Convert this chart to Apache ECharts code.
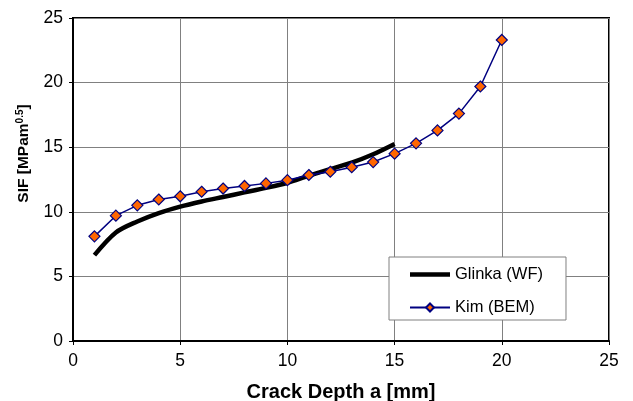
<!DOCTYPE html>
<html>
<head>
<meta charset="utf-8">
<script src="https://cdn.jsdelivr.net/npm/echarts@6/dist/echarts.min.js"></script>
<style>
  html, body { margin: 0; padding: 0; background: #fff; }
  #chart { width: 633px; height: 401px; }
</style>
</head>
<body>
<div id="chart"></div>
<script>
// Crack depth a [mm]
const glinkaDepth = [1, 2, 3, 4, 5, 6, 7, 8, 9, 10, 11, 12, 13, 14, 15];
const glinkaSIF = [6.65, 8.4, 9.25, 9.9, 10.4, 10.8, 11.15, 11.5, 11.85, 12.25, 12.8, 13.3, 13.8, 14.45, 15.25];

const kimDepth = [1, 2, 3, 4, 5, 6, 7, 8, 9, 10, 11, 12, 13, 14, 15, 16, 17, 18, 19, 20];
const kimSIF = [8.1, 9.7, 10.5, 10.95, 11.2, 11.55, 11.8, 12.0, 12.2, 12.45, 12.85, 13.1, 13.45, 13.85, 14.5, 15.3, 16.3, 17.6, 19.7, 23.3];

const seriesNames = ['Glinka (WF)', 'Kim (BEM)'];

const pairs = (xs, ys) => xs.map((x, i) => [x, ys[i]]);

const font = 'Liberation Sans, Arial, sans-serif';

const chart = echarts.init(document.getElementById('chart'), null, { renderer: 'canvas' });
chart.setOption({
  animation: false,
  backgroundColor: '#ffffff',
  textStyle: { fontFamily: font },
  grid: {
    left: 73, right: 24, top: 18, bottom: 60,
    outerBoundsMode: 'none',
    containLabel: false,
    show: true, borderColor: '#000', borderWidth: 2, backgroundColor: '#fff'
  },
  legend: {
    orient: 'vertical',
    left: 389, top: 257,
    padding: [9, 23, 4, 20],
    itemGap: 16,
    itemWidth: 40, itemHeight: 10,
    backgroundColor: '#fff',
    borderColor: '#808080', borderWidth: 1,
    textStyle: { fontSize: 16.5, color: '#000', fontFamily: font },
    data: [
      // plain thick bar for the wave-function curve (no marker)
      { name: seriesNames[0], icon: 'path://M0,0L40,0L40,4.5L0,4.5Z', itemStyle: { color: '#000' } },
      { name: seriesNames[1] }
    ]
  },
  xAxis: {
    type: 'value', min: 0, max: 25, interval: 5,
    name: 'Crack Depth a [mm]',
    nameLocation: 'middle', nameGap: 41,
    nameMoveOverlap: false,
    nameTextStyle: { fontSize: 20, fontWeight: 'bold', color: '#000', fontFamily: font },
    axisLine: { lineStyle: { color: '#000', width: 2 } },
    axisTick: { show: true, length: 4, lineStyle: { color: '#000', width: 1 } },
    axisLabel: { fontSize: 17.5, color: '#000', margin: 11, fontFamily: font },
    splitLine: { show: true, lineStyle: { color: '#808080', width: 1 } }
  },
  yAxis: {
    type: 'value', min: 0, max: 25, interval: 5,
    name: 'SIF [MPam{sup|0.5}]',
    nameLocation: 'middle', nameGap: 40, nameRotate: 90,
    nameMoveOverlap: false,
    nameTextStyle: {
      fontSize: 15.5, fontWeight: 'bold', color: '#000', fontFamily: font,
      padding: [0, 0, 0, 52],
      rich: {
        sup: { fontSize: 10, fontWeight: 'bold', color: '#000', fontFamily: font, verticalAlign: 'bottom', padding: [0, 0, 8, 0] }
      }
    },
    axisLine: { show: true, lineStyle: { color: '#000', width: 2 } },
    axisTick: { show: true, length: 4, lineStyle: { color: '#000', width: 1 } },
    axisLabel: { fontSize: 17.5, color: '#000', margin: 10, fontFamily: font },
    splitLine: { show: true, lineStyle: { color: '#808080', width: 1 } }
  },
  series: [
    {
      name: seriesNames[0],
      type: 'line',
      data: pairs(glinkaDepth, glinkaSIF),
      showSymbol: false, symbol: 'none',
      smooth: 0.3,
      lineStyle: { color: '#000', width: 4.5 },
      itemStyle: { color: '#000' },
      z: 2
    },
    {
      name: seriesNames[1],
      type: 'line',
      data: pairs(kimDepth, kimSIF),
      symbol: 'diamond', symbolSize: 11,
      lineStyle: { color: '#000080', width: 1.5 },
      itemStyle: { color: '#FF6600', borderColor: '#000080', borderWidth: 1.2 },
      z: 3
    }
  ]
});
</script>
</body>
</html>
